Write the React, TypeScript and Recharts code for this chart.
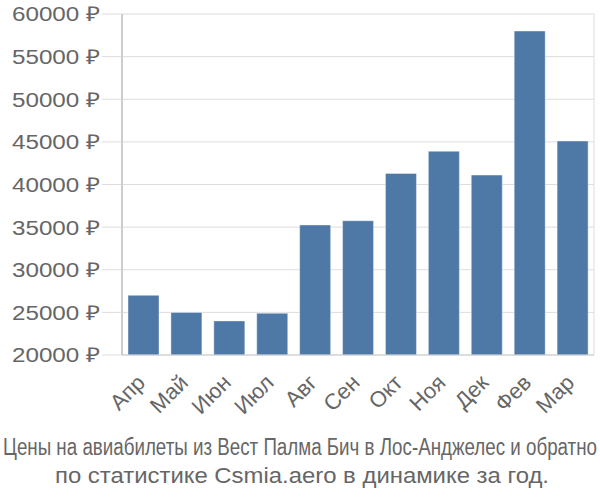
import React from "react";
import { BarChart, Bar, XAxis, YAxis, CartesianGrid } from "recharts";

const months = ["Апр", "Май", "Июн", "Июл", "Авг", "Сен", "Окт", "Ноя", "Дек", "Фев", "Мар"];
const prices = [27000, 25000, 24000, 24900, 35250, 35750, 41300, 43900, 41100, 58000, 45100];
const yTicks = [20000, 25000, 30000, 35000, 40000, 45000, 50000, 55000, 60000];
const boundaryTicks = [0, 1, 2, 3, 4, 5, 6, 7, 8, 9, 10, 11];
const titleLine1 = "Цены на авиабилеты из Вест Палма Бич в Лос-Анджелес и обратно";
const titleLine2 = "по статистике Csmia.aero в динамике за год.";

const data = months.map((m, i) => ({ month: m, price: prices[i] }));

const FONT = "'Liberation Sans', Arial, sans-serif";
const TEXT = "#666666";
const STRETCH = 1.18;

const YTick = (props: any) => {
  const { x, y, payload } = props;
  return (
    <g transform={`translate(${x},${y})`}>
      <text
        transform={`scale(${STRETCH},1)`}
        textAnchor="end"
        dy="0.36em"
        fontSize={20.5}
        fontFamily={FONT}
        fill={TEXT}
      >
        {`${payload.value} ₽`}
      </text>
    </g>
  );
};

const XTick = (props: any) => {
  const { x, y, payload } = props;
  return (
    <g transform={`translate(${x + 3},${y + 28})`}>
      <g transform="rotate(-45)">
        <text textAnchor="end" fontSize={22} fontFamily={FONT} fill={TEXT}>
          {payload.value}
        </text>
      </g>
    </g>
  );
};

export default function App() {
  return (
    <div style={{ position: "absolute", left: 0, top: 0, width: 600, height: 500, background: "#fff" }}>
      <BarChart
        width={600}
        height={500}
        data={data}
        margin={{ top: 14, right: 6, left: 0, bottom: 0 }}
        barCategoryGap="14%"
      >
        <CartesianGrid xAxisId={0} stroke="#dddddd" strokeWidth={1} />
        <XAxis
          xAxisId={0}
          type="number"
          domain={[0, 11]}
          ticks={boundaryTicks}
          allowDataOverflow
          height={1}
          tick={false}
          tickSize={20}
          tickLine={{ stroke: "#dddddd" }}
          axisLine={{ stroke: "#cccccc" }}
        />
        <XAxis
          xAxisId={1}
          dataKey="month"
          height={144}
          interval={0}
          tickLine={false}
          axisLine={false}
          tickSize={0}
          tickMargin={0}
          tick={<XTick />}
        />
        <YAxis
          width={122}
          domain={[20000, 60000]}
          ticks={yTicks}
          interval={0}
          allowDataOverflow
          tickSize={20}
          tickMargin={2}
          tickLine={{ stroke: "#dddddd" }}
          axisLine={{ stroke: "#aaaaaa" }}
          tick={<YTick />}
        />
        <Bar
          xAxisId={1}
          dataKey="price"
          fill="#4e79a7"
          stroke="#ffffff"
          strokeOpacity={0.4}
          strokeWidth={1}
          isAnimationActive={false}
        />
      </BarChart>
      <svg width={600} height={500} style={{ position: "absolute", left: 0, top: 0, pointerEvents: "none" }}>
        <text
          x={300}
          y={455}
          textAnchor="middle"
          fontSize={23}
          fontFamily={FONT}
          fill={TEXT}
          textLength={594}
          lengthAdjust="spacingAndGlyphs"
        >
          {titleLine1}
        </text>
        <text
          x={302}
          y={483}
          textAnchor="middle"
          fontSize={22}
          fontFamily={FONT}
          fill={TEXT}
          textLength={494}
          lengthAdjust="spacingAndGlyphs"
        >
          {titleLine2}
        </text>
      </svg>
    </div>
  );
}
